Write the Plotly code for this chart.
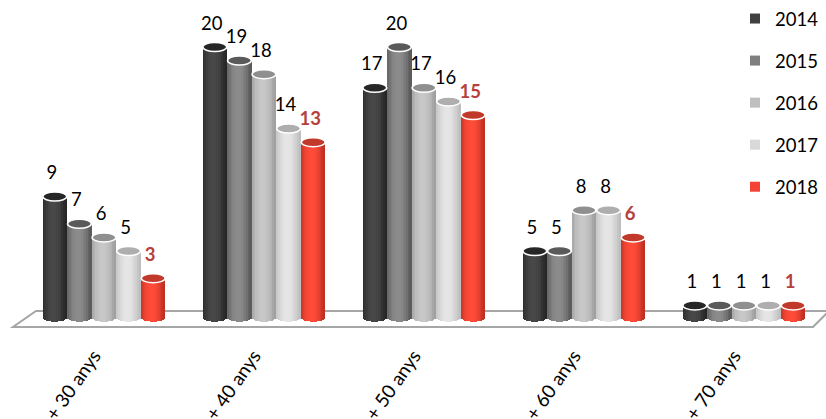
import math
import plotly.graph_objects as go

W, H = 826, 419
categories = ["+ 30 anys", "+ 40 anys", "+ 50 anys", "+ 60 anys", "+ 70 anys"]
years = ["2014", "2015", "2016", "2017", "2018"]
v2014 = [9, 20, 17, 5, 1]
v2015 = [7, 19, 20, 5, 1]
v2016 = [6, 18, 17, 8, 1]
v2017 = [5, 14, 16, 8, 1]
v2018 = [3, 13, 15, 6, 1]
series = [v2014, v2015, v2016, v2017, v2018]

# style: legend colour, cylinder edge colour, cylinder centre colour, cap colour
legend_col = ["#404040", "#7f7f7f", "#bfbfbf", "#d9d9d9", "#f44336"]
edge_col = [(38, 38, 38), (92, 92, 92), (160, 160, 160), (190, 190, 190), (190, 48, 36)]
mid_col = [(72, 72, 72), (140, 140, 140), (200, 200, 200), (230, 230, 230), (255, 76, 56)]
cap_col = ["#262626", "#5a5a5a", "#8f8f8f", "#aeaeae", "#c0392b"]

# axis calibration (pixels)
PX_PER_UNIT = 13.6
PX_ZERO = 319
PLOT_BOTTOM = 340
PX_PER_CAT = 160
PX_CAT0 = 104
PITCH = 24.6 / PX_PER_CAT
BAR_W = 23.8 / PX_PER_CAT
N = 14
FS = 18.5

xr = [-PX_CAT0 / PX_PER_CAT, (W - PX_CAT0) / PX_PER_CAT]
yr = [(PX_ZERO - PLOT_BOTTOM) / PX_PER_UNIT, PX_ZERO / PX_PER_UNIT]


def mix(a, b, t):
    return "rgb(%d,%d,%d)" % tuple(round(a[k] + (b[k] - a[k]) * t) for k in range(3))


fig = go.Figure()
shapes = []

# floor
def P(px, py):
    return px / W, 1 - py / PLOT_BOTTOM

fl = [P(13, 327), P(813, 327), P(829, 311), P(36, 311)]
shapes.append(dict(type="path", xref="paper", yref="paper", layer="below",
                   path="M" + " L".join("%.5f,%.5f" % p for p in fl) + " Z",
                   line=dict(color="#a6a6a6", width=2), fillcolor="white"))

group_x = list(range(len(categories)))
for i, vals in enumerate(series):
    centre = [g + (i - 2) * PITCH for g in group_x]
    for j in range(N):
        t = (j + 0.5) / N * 2 - 1  # -1 .. 1 over the cylinder face
        depth = math.sqrt(1 - t * t)
        shade = max(0.0, 1 - abs(t + 0.1) ** 2 * 1.05)
        base = (-3.6 * depth + 1.0) / PX_PER_UNIT
        fig.add_trace(go.Bar(
            x=[c + t * BAR_W / 2 for c in centre],
            y=[v - base for v in vals],
            base=[base] * len(vals),
            width=BAR_W / N * 1.25,
            marker=dict(color=mix(edge_col[i], mid_col[i], shade), line=dict(width=0)),
            showlegend=False, hoverinfo="skip"))
    for c, v in zip(centre, vals):
        shapes.append(dict(type="circle", xref="x", yref="y",
                           x0=c - BAR_W / 2, x1=c + BAR_W / 2,
                           y0=v - 4.5 / PX_PER_UNIT, y1=v + 4.5 / PX_PER_UNIT,
                           fillcolor=cap_col[i], line=dict(color="white", width=1.5)))
    last = i == len(series) - 1
    fig.add_trace(go.Scatter(
        x=[c - 3 / PX_PER_CAT for c in centre],
        y=[v + 22 / PX_PER_UNIT for v in vals],
        mode="text", text=[str(v) for v in vals], textposition="middle center",
        textfont=dict(family="Lato", size=FS, color="#b5403c" if last else "black",
                      weight="bold" if last else "normal"),
        showlegend=False, hoverinfo="skip"))

for i, y in enumerate(years):
    fig.add_trace(go.Scatter(x=[None], y=[None], mode="markers", name=y, legendgroup=y,
                             marker=dict(symbol="square", size=10, color=legend_col[i])))

fig.update_layout(
    width=W, height=H, autosize=False,
    margin=dict(l=0, r=0, t=0, b=H - PLOT_BOTTOM, pad=0),
    paper_bgcolor="white", plot_bgcolor="rgba(0,0,0,0)",
    barmode="overlay", bargap=0, shapes=shapes,
    font=dict(family="Lato", size=FS, color="black"),
    xaxis=dict(range=xr, tickmode="array", tickvals=group_x, ticktext=categories,
               tickangle=-55, showgrid=False, zeroline=False, showline=False, automargin=False,
               ticks="", ticklabelstandoff=0, ticklabelshift=-10, tickfont=dict(family="Lato", size=19)),
    yaxis=dict(range=yr, visible=False, automargin=False),
    legend=dict(x=735 / W, xanchor="left", y=1, yanchor="top",
                tracegroupgap=15, bgcolor="rgba(0,0,0,0)", borderwidth=0,
                font=dict(family="Lato", size=FS)),
)
fig.write_html("out.html", config={"displayModeBar": False},
               post_script="document.body.style.margin='0';document.body.style.overflow='hidden';")
